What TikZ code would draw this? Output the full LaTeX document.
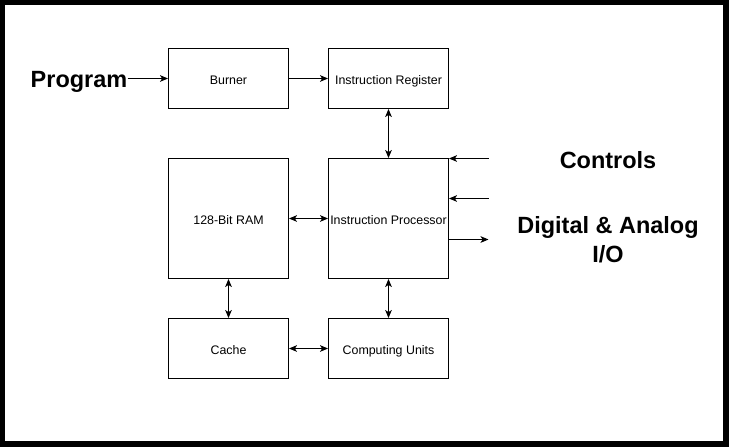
\documentclass[tikz,border=0pt]{standalone}
\usepackage{fontspec}
\setmainfont{Liberation Sans}
\usetikzlibrary{arrows.meta}
\begin{document}
\begin{tikzpicture}[x=0.75pt,y=-0.75pt,
  blk/.style={draw=black,line width=0.75pt,fill=white,minimum width=90pt,minimum height=45pt,inner sep=0pt,text height=9pt,text depth=0pt,font=\fontsize{9.3pt}{11pt}\selectfont},
  tall/.style={minimum height=90pt},
  big/.style={font=\fontsize{17.6pt}{21.75pt}\selectfont\bfseries,inner sep=0pt,align=center},
  con/.style={line width=0.75pt,-{Stealth[length=6pt,width=5pt,inset=1.6pt]}},
  bicon/.style={line width=0.75pt,{Stealth[length=6pt,width=5pt,inset=1.6pt]}-{Stealth[length=6pt,width=5pt,inset=1.6pt]}}]
\useasboundingbox (0,0) rectangle (729,447);
\fill[black] (0,0) rectangle (729,447);
\fill[white] (5,5) rectangle (723,441);
\node[blk] (burner) at (228.5,78.5) {Burner};
\node[blk] (ireg) at (388.5,78.5) {Instruction Register};
\node[blk,tall] (ram) at (228.5,218.5) {128-Bit RAM};
\node[blk,tall] (iproc) at (388.5,218.5) {Instruction Processor};
\node[blk] (cache) at (228.5,348.5) {Cache};
\node[blk] (cu) at (388.5,348.5) {Computing Units};
\node[big,anchor=base east] (prog) at (127.5,87.5) {Program};
\node[big] (ctrl) at (608,160) {Controls};
\node[big] (dio) at (608,239.5) {Digital \& Analog\\I/O};
\coordinate (c1) at (488.5,158.5);
\coordinate (c2) at (488.5,198.5);
\coordinate (c3) at (488.5,239.5);
\draw[con] (prog.east |- burner.west) -- (burner.west);
\draw[con] (burner.east) -- (ireg.west);
\draw[bicon] (ireg.south) -- (iproc.north);
\draw[bicon] (ram.east) -- (iproc.west);
\draw[bicon] (ram.south) -- (cache.north);
\draw[bicon] (iproc.south) -- (cu.north);
\draw[bicon] (cache.east) -- (cu.west);
\draw[con] (c1) -- (c1 -| iproc.east);
\draw[con] (c2) -- (c2 -| iproc.east);
\draw[con] (c3 -| iproc.east) -- (c3);
\end{tikzpicture}
\end{document}
